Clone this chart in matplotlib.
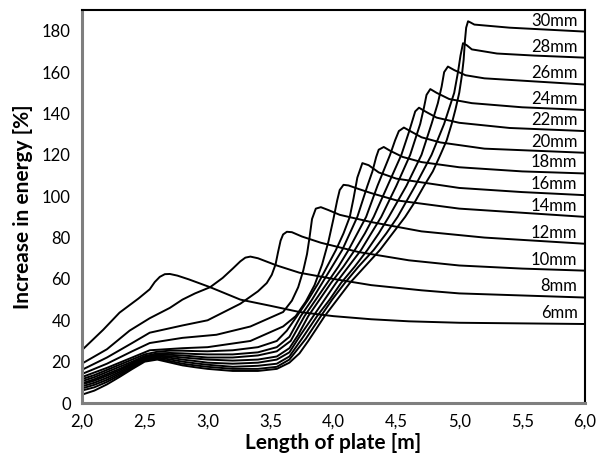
import matplotlib
matplotlib.use('Agg')
import matplotlib.pyplot as plt

plt.rcParams['font.family'] = ['Lato', 'DejaVu Sans']

# curve data (x in m, increase in %)
x_6 = [2.0, 2.17, 2.3, 2.45, 2.54, 2.58, 2.62, 2.66, 2.7, 2.76, 2.85, 3.02, 3.26, 3.5, 3.73, 4.0, 4.3, 4.6, 5.0, 5.5, 6.0]
y_6 = [25.5, 35.4, 43.7, 50.5, 55, 58.5, 61, 62.3, 62.4, 61.6, 59.8, 56, 50, 47, 44, 42, 40.5, 39.5, 38.8, 38.5, 38.2]

x_8 = [2.0, 2.2, 2.38, 2.54, 2.7, 2.8, 2.9, 3.02, 3.12, 3.2, 3.26, 3.3, 3.34, 3.4, 3.55, 3.73, 4.0, 4.3, 4.7, 5.0, 5.5, 6.0]
y_8 = [19, 26, 35, 41, 46, 50, 53, 56, 60.5, 65, 68.5, 70.3, 70.8, 70, 66.5, 63, 60, 57, 54.5, 53, 52, 51]

x_10 = [2.0, 2.2, 2.4, 2.54, 2.8, 3.0, 3.26, 3.4, 3.47, 3.51, 3.54, 3.56, 3.58, 3.6, 3.63, 3.67, 3.75, 3.9, 4.2, 4.6, 5.0, 5.5, 6.0]
y_10 = [16, 22, 29, 34, 37.5, 40, 48, 54, 58, 62, 67, 73, 78.5, 81.5, 82.8, 82.6, 80.5, 77.5, 73, 69, 66.5, 65, 64]

x_12 = [2.0, 2.2, 2.4, 2.54, 2.8, 3.07, 3.34, 3.6, 3.67, 3.72, 3.76, 3.79, 3.81, 3.83, 3.86, 3.9, 3.96, 4.05, 4.3, 4.7, 5.2, 5.6, 6.0]
y_12 = [14, 19, 25, 29, 31.5, 33, 37, 44, 49.5, 56, 64, 72, 80, 89, 94, 94.7, 93.3, 91, 87.5, 83, 80, 78.5, 77]

x_14 = [2.0, 2.2, 2.4, 2.54, 2.8, 3.0, 3.34, 3.6, 3.7, 3.78, 3.85, 3.91, 3.96, 4.0, 4.03, 4.05, 4.08, 4.12, 4.2, 4.3, 4.5, 5.0, 5.5, 6.0]
y_14 = [12.5, 17, 22, 25.5, 26.5, 27, 30, 37, 42, 49, 57, 67, 78, 89, 98, 103, 105.5, 105.2, 103.5, 101.5, 98, 94, 92, 90]

x_16 = [2.0, 2.1, 2.2, 2.3, 2.4, 2.5, 2.6, 2.7, 2.8, 2.9, 3.0, 3.2, 3.4, 3.55, 3.63, 3.71, 3.8, 3.88, 3.95, 4.02, 4.08, 4.13, 4.16, 4.19, 4.23, 4.28, 4.36, 4.5, 5.0, 5.5, 6.0]
y_16 = [11.5, 13.5, 16, 18.5, 21, 23.5, 24.8, 25.3, 25.3, 25.1, 25, 25.5, 27, 30, 35, 42, 50, 58, 66, 74, 82, 90, 99, 109, 116, 115, 111.5, 108.5, 104, 102, 100.5]

x_18 = [2.0, 2.1, 2.2, 2.3, 2.4, 2.5, 2.6, 2.7, 2.8, 2.9, 3.0, 3.2, 3.4, 3.55, 3.65, 3.74, 3.83, 3.91, 3.99, 4.07, 4.13, 4.19, 4.27, 4.31, 4.34, 4.36, 4.4, 4.45, 4.55, 4.7, 5.0, 5.5, 6.0]
y_18 = [10.5, 12.5, 15, 17.5, 20, 22.7, 24, 24.2, 24, 23.7, 23.5, 23.5, 24.5, 27, 32, 42, 50, 58, 66, 74, 82, 90, 105, 112, 119, 122.5, 123.8, 122, 119, 116.5, 114, 112, 111]

x_20 = [2.0, 2.1, 2.2, 2.3, 2.4, 2.5, 2.6, 2.7, 2.8, 2.9, 3.0, 3.2, 3.4, 3.55, 3.66, 3.77, 3.86, 3.95, 4.04, 4.12, 4.19, 4.26, 4.35, 4.45, 4.49, 4.52, 4.56, 4.61, 4.7, 4.85, 5.2, 5.6, 6.0]
y_20 = [9.5, 11.5, 14, 16.5, 19.3, 22.2, 23.4, 23.3, 23, 22.5, 22, 22, 23, 25, 30, 42, 50, 58, 66, 74, 82, 90, 105, 120, 127, 131.5, 133.2, 131.5, 128.5, 126, 123, 122, 121]

x_22 = [2.0, 2.1, 2.2, 2.3, 2.4, 2.5, 2.6, 2.7, 2.8, 2.9, 3.0, 3.2, 3.4, 3.55, 3.65, 3.72, 3.8, 3.89, 3.98, 4.08, 4.17, 4.25, 4.32, 4.43, 4.54, 4.6, 4.63, 4.65, 4.68, 4.73, 4.82, 5.0, 5.4, 6.0]
y_22 = [9, 10.8, 13.2, 15.8, 18.8, 21.8, 22.9, 22.6, 22, 21.5, 21, 20.5, 21, 22.5, 26.5, 33, 42, 50, 58, 66, 74, 82, 90, 105, 120, 131, 137, 141, 142.8, 141, 138, 135.5, 133, 131.5]

x_24 = [2.0, 2.1, 2.2, 2.3, 2.4, 2.5, 2.6, 2.7, 2.8, 2.9, 3.0, 3.2, 3.4, 3.55, 3.65, 3.74, 3.84, 3.93, 4.02, 4.12, 4.22, 4.3, 4.38, 4.5, 4.61, 4.69, 4.72, 4.74, 4.77, 4.82, 4.92, 5.1, 5.5, 6.0]
y_24 = [8, 9.8, 12.2, 15, 18.2, 21.4, 22.5, 21.9, 21, 20.3, 19.5, 19, 19.5, 21, 24.5, 33, 42, 50, 58, 66, 74, 82, 90, 105, 120, 135, 143, 149, 151.8, 150, 147, 145, 143, 141.7]

x_26 = [2.0, 2.1, 2.2, 2.3, 2.4, 2.5, 2.6, 2.7, 2.8, 2.9, 3.0, 3.2, 3.4, 3.55, 3.65, 3.76, 3.87, 3.97, 4.06, 4.17, 4.27, 4.36, 4.44, 4.58, 4.7, 4.78, 4.83, 4.86, 4.88, 4.91, 4.96, 5.05, 5.2, 5.6, 6.0]
y_26 = [7, 8.8, 11.2, 14.2, 17.6, 21, 22, 21.1, 20, 19.2, 18.5, 17.5, 18, 19, 22.5, 32, 42, 50, 58, 66, 74, 82, 90, 105, 120, 135, 145, 153, 160, 162.7, 161, 158.5, 157, 155.5, 154]

x_28 = [2.0, 2.1, 2.2, 2.3, 2.4, 2.5, 2.6, 2.7, 2.8, 2.9, 3.0, 3.2, 3.4, 3.55, 3.65, 3.78, 3.9, 3.99, 4.09, 4.2, 4.32, 4.42, 4.51, 4.65, 4.78, 4.88, 4.96, 4.99, 5.01, 5.03, 5.06, 5.1, 5.3, 5.6, 6.0]
y_28 = [6, 7.6, 10.2, 13.4, 17, 20.5, 21.5, 20.3, 19, 18.2, 17.5, 16.5, 16.5, 17.5, 21, 31, 42, 50, 58, 66, 74, 82, 90, 105, 120, 135, 150, 160, 168, 174, 173, 171, 169, 168, 167]

x_30 = [2.0, 2.1, 2.2, 2.3, 2.4, 2.5, 2.6, 2.7, 2.8, 2.9, 3.0, 3.2, 3.4, 3.55, 3.65, 3.73, 3.8, 3.86, 3.93, 4.03, 4.13, 4.25, 4.37, 4.47, 4.57, 4.65, 4.72, 4.79, 4.85, 4.9, 4.94, 4.97, 5.0, 5.02, 5.035, 5.045, 5.055, 5.07, 5.09, 5.12, 5.4, 6.0]
y_30 = [4, 6, 9, 12.6, 16.4, 20, 21, 19.6, 18.2, 17.3, 16.5, 15.5, 15.5, 16.5, 19.5, 24, 30, 35.5, 42, 50, 58, 66, 74, 82, 90, 97.5, 105, 112, 120, 127, 135, 142, 150, 158, 166, 175, 181.5, 184.6, 184, 183, 181.5, 179.6]

curves_x = [x_6, x_8, x_10, x_12, x_14, x_16, x_18, x_20, x_22, x_24, x_26, x_28, x_30]
curves_y = [y_6, y_8, y_10, y_12, y_14, y_16, y_18, y_20, y_22, y_24, y_26, y_28, y_30]
labels = ['6mm', '8mm', '10mm', '12mm', '14mm', '16mm', '18mm', '20mm', '22mm', '24mm', '26mm', '28mm', '30mm']

xticks = [2.0, 2.5, 3.0, 3.5, 4.0, 4.5, 5.0, 5.5, 6.0]
xtick_labels = ['2,0', '2,5', '3,0', '3,5', '4,0', '4,5', '5,0', '5,5', '6,0']
yticks = [0, 20, 40, 60, 80, 100, 120, 140, 160, 180]

fig = plt.figure(figsize=(5.97, 4.59), dpi=100)
ax = fig.add_axes([0.137, 0.122, 0.843, 0.856])

for xs, ys, lab in zip(curves_x, curves_y, labels):
    ax.plot(xs, ys, color='black', lw=1.4, solid_joinstyle='round')
    # label sits just above the line end, right aligned
    ax.text(5.94, ys[-1] + 1.5, lab, ha='right', va='bottom', fontsize=12)

ax.set_xlim(2.0, 6.0)
ax.set_ylim(0, 190)
ax.set_xticks(xticks)
ax.set_xticklabels(xtick_labels)
ax.set_yticks(yticks)
ax.tick_params(length=0, labelsize=12, pad=8)

ax.set_xlabel('Length of plate [m]', fontsize=15, fontweight='bold', labelpad=2)
ax.set_ylabel('Increase in energy [%]', fontsize=15, fontweight='bold', labelpad=6)

for s in ['left', 'bottom']:
    ax.spines[s].set_color('#7f7f7f')
    ax.spines[s].set_linewidth(2.2)
for s in ['top', 'right']:
    ax.spines[s].set_color('black')
    ax.spines[s].set_linewidth(1.5)

fig.savefig('out.png', dpi=100)
